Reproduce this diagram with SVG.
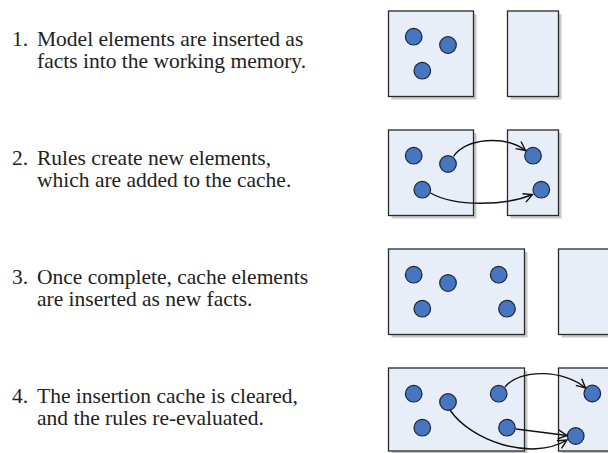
<svg xmlns="http://www.w3.org/2000/svg" width="608" height="453" viewBox="0 0 608 453">
<defs>
<style>
.t{font-family:"Liberation Serif","Times New Roman",serif;font-size:21.5px;fill:#222}
.sh{fill:#c9c9c9}
.bx{fill:#e8eef7;stroke:#2a2a2a;stroke-width:1.3}
.c{fill:#4676c0;stroke:#1c2233;stroke-width:1.2}
.e{fill:none;stroke:#111;stroke-width:1.4}
</style>
<marker id="ah" markerWidth="12" markerHeight="12" refX="10" refY="5" orient="auto" markerUnits="userSpaceOnUse" overflow="visible">
<path d="M1,0.5 L10,5 L1,9.5" fill="none" stroke="#111" stroke-width="1.4" stroke-linejoin="miter"/>
</marker>
</defs>
<rect width="608" height="453" fill="#fff"/>

<g id="text1"><text class="t" y="46"><tspan x="12">1.</tspan><tspan x="37">Model elements are inserted as</tspan></text><text class="t" x="37" y="68">facts into the working memory.</text></g>
<g id="text2"><text class="t" y="165"><tspan x="12">2.</tspan><tspan x="37">Rules create new elements,</tspan></text><text class="t" x="37" y="187">which are added to the cache.</text></g>
<g id="text3"><text class="t" y="284"><tspan x="12">3.</tspan><tspan x="37">Once complete, cache elements</tspan></text><text class="t" x="37" y="306">are inserted as new facts.</text></g>
<g id="text4"><text class="t" y="403"><tspan x="12">4.</tspan><tspan x="37">The insertion cache is cleared,</tspan></text><text class="t" x="37" y="425">and the rules re-evaluated.</text></g>

<g id="row1">
<g id="wm1"><rect class="sh" x="391.5" y="14" width="85" height="85.5"/><rect class="bx" x="388.5" y="11" width="85" height="85.5"/>
<circle class="c" cx="413.7" cy="36.7" r="8.3"/><circle class="c" cx="448" cy="45" r="8.3"/><circle class="c" cx="422.3" cy="70.7" r="8.3"/></g>
<g id="cache1"><rect class="sh" x="510.5" y="14" width="51" height="85.5"/><rect class="bx" x="507.5" y="11" width="51" height="85.5"/></g>
</g>

<g id="row2">
<g id="wm2"><rect class="sh" x="391.5" y="133" width="85" height="85.5"/><rect class="bx" x="388.5" y="130" width="85" height="85.5"/>
<circle class="c" cx="413.7" cy="155.7" r="8.3"/><circle class="c" cx="448" cy="164" r="8.3"/><circle class="c" cx="422.3" cy="189.7" r="8.3"/></g>
<g id="cache2"><rect class="sh" x="510.5" y="133" width="51" height="85.5"/><rect class="bx" x="507.5" y="130" width="51" height="85.5"/>
<circle class="c" cx="533" cy="155.7" r="8.3"/><circle class="c" cx="541.3" cy="189.7" r="8.3"/></g>
</g>

<g id="row3">
<g id="wm3"><rect class="sh" x="391.5" y="252" width="136" height="85.5"/><rect class="bx" x="388.5" y="249" width="136" height="85.5"/>
<circle class="c" cx="413.7" cy="274.7" r="8.3"/><circle class="c" cx="448" cy="283" r="8.3"/><circle class="c" cx="498.7" cy="274.7" r="8.3"/><circle class="c" cx="422.3" cy="308.7" r="8.3"/><circle class="c" cx="507" cy="308.7" r="8.3"/></g>
<g id="cache3"><rect class="sh" x="561.5" y="252" width="60" height="85.5"/><rect class="bx" x="558.5" y="249" width="60" height="85.5"/></g>
</g>

<g id="row4">
<g id="wm4"><rect class="sh" x="391.5" y="371" width="136" height="85.5"/><rect class="bx" x="388.5" y="368" width="136" height="83"/>
<circle class="c" cx="413.7" cy="393.7" r="8.3"/><circle class="c" cx="448" cy="402" r="8.3"/><circle class="c" cx="498.7" cy="393.7" r="8.3"/><circle class="c" cx="422.3" cy="427.7" r="8.3"/><circle class="c" cx="507" cy="427.7" r="8.3"/></g>
<g id="cache4"><rect class="sh" x="561.5" y="371" width="60" height="85.5"/><rect class="bx" x="558.5" y="368" width="60" height="83"/>
<circle class="c" cx="592.3" cy="393.5" r="8.3"/><circle class="c" cx="575.7" cy="436" r="8.3"/></g>
</g>

<g id="connectors">
<path class="e" d="M453.5,156.5 C465,138 505,135 525.5,150.5" marker-end="url(#ah)"/>
<path class="e" d="M430.5,193 C455,207 505,206 532.5,194.5" marker-end="url(#ah)"/>
<path class="e" d="M505,387 C520,368 565,370 585.5,388" marker-end="url(#ah)"/>
<path class="e" d="M516,429 L567,435.5" marker-end="url(#ah)"/>
<path class="e" d="M450,410 C470,440 530,462 567,440" marker-end="url(#ah)"/>
</g>
</svg>
